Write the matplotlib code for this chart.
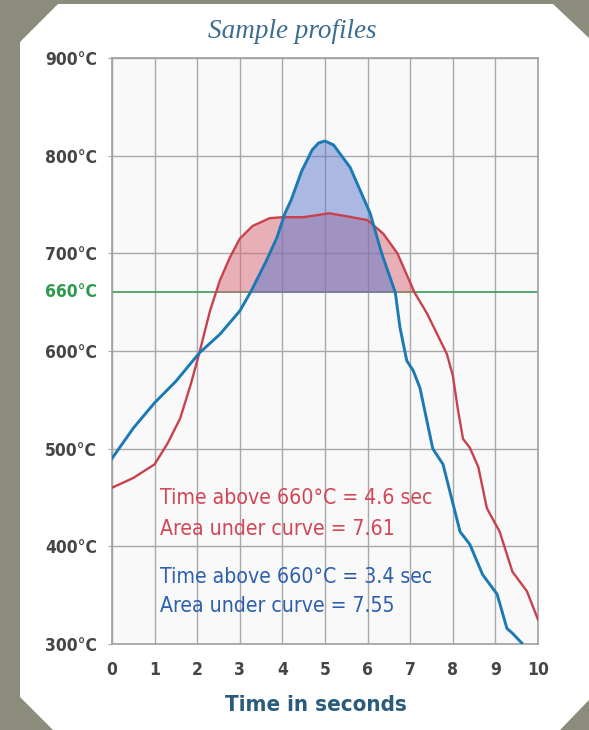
import matplotlib
matplotlib.use("Agg")
import matplotlib.pyplot as plt
from matplotlib.patches import Polygon
from matplotlib import font_manager
import numpy as np

# ---------------- data ----------------
red_t = [0, 0.5, 1.0, 1.3, 1.6, 1.85, 2.05, 2.3, 2.53, 2.77, 3.0, 3.3, 3.7,
         4.0, 4.5, 5.1, 5.5, 6.0, 6.37, 6.7, 7.1, 7.4, 7.86, 8.0, 8.12, 8.24,
         8.4, 8.6, 8.8, 9.1, 9.4, 9.74, 10]
red_temp = [460, 470, 484, 505, 531, 566, 598, 641, 672, 696, 715, 728, 736,
            737, 737, 741, 738, 734, 720, 700, 660, 638, 597, 575, 540, 510,
            501, 481, 439, 415, 374, 354, 325]

blue_t = [0, 0.5, 1.0, 1.5, 2.05, 2.53, 3.0, 3.25, 3.63, 3.87, 4.06, 4.2,
          4.45, 4.7, 4.85, 5.0, 5.2, 5.59, 5.9, 6.06, 6.33, 6.65, 6.76, 6.92,
          7.07, 7.23, 7.53, 7.77, 8.17, 8.4, 8.7, 9.04, 9.27, 9.4, 9.62]
blue_temp = [490, 521, 547, 569, 598, 617, 641, 660, 693, 716, 741, 754,
             784, 806, 813, 815, 811, 788, 757, 741, 700, 660, 624, 590,
             580, 562, 500, 484, 415, 402, 371, 351, 316, 311, 301]

threshold = 660
y_ticks = [300, 400, 500, 600, 700, 800, 900]
x_ticks = list(range(0, 11))
title = "Sample profiles"
xlabel = "Time in seconds"
red_lines = ["Time above 660°C = 4.6 sec", "Area under curve = 7.61"]
blue_lines = ["Time above 660°C = 3.4 sec", "Area under curve = 7.55"]

# ---------------- styles ----------------
W, H = 589, 730
RED = "#c9414c"
BLUE = "#1a7ab6"
GREEN = "#3a9a55"
TXT = "#454545"

names = {f.name for f in font_manager.fontManager.ttflist}
if "Liberation Sans Narrow" in names:
    NFAM, NSTRETCH = "Liberation Sans Narrow", "normal"
else:
    NFAM, NSTRETCH = "DejaVu Sans", "condensed"
NKW = dict(family=NFAM, fontstretch=NSTRETCH)

fig = plt.figure(figsize=(W / 100, H / 100), dpi=100)
fig.patch.set_facecolor("#8c8c7c")

pts = [(20, 42), (58, 4), (553, 4), (589, 38), (589, 700), (560, 730),
       (53, 730), (20, 697)]
panel = Polygon([(x / W, 1 - y / H) for x, y in pts], closed=True,
                transform=fig.transFigure, facecolor="white", edgecolor="none",
                zorder=-5)
fig.patches.append(panel)

ax = fig.add_axes([112 / W, 1 - 644 / H, (538 - 112) / W, (644 - 58) / H])
ax.set_zorder(2)
ax.set_facecolor("#f9f9f9")
ax.set_xlim(0, 10)
ax.set_ylim(300, 900)

ax.set_xticks(x_ticks)
ax.set_yticks(y_ticks)
ax.set_xticklabels([str(v) for v in x_ticks])
ax.set_yticklabels([f"{v}°C" for v in y_ticks])
ax.grid(True, color="#a8a8a8", lw=1.0, zorder=1)
ax.tick_params(axis="both", length=3, color="#a8a8a8", labelcolor=TXT)
ax.tick_params(axis="x", length=0, pad=12)
ax.tick_params(axis="y", pad=8)
for lab in ax.get_xticklabels() + ax.get_yticklabels():
    lab.set_fontfamily(NFAM)
    lab.set_fontstretch(NSTRETCH)
    lab.set_fontweight("bold")
    lab.set_fontsize(12.5)
for s in ax.spines.values():
    s.set_color("#a0a0a0")
    s.set_linewidth(1.2)

# threshold line and label
ax.axhline(threshold, color=GREEN, lw=1.2, zorder=2)
ax.annotate(f"{threshold}°C", xy=(0, threshold), xycoords=ax.get_yaxis_transform(),
            xytext=(-11, 0), textcoords="offset points",
            ha="right", va="center", color="#2f9a4c", fontsize=12.5,
            fontweight="bold", **NKW)

# fills
rt = np.array(red_t, float); ry = np.array(red_temp, float)
bt = np.array(blue_t, float); by = np.array(blue_temp, float)
ax.fill_between(rt, ry, threshold, where=ry >= threshold, interpolate=True,
                color="#d86874", alpha=0.5, lw=0, zorder=2)
ax.fill_between(bt, by, threshold, where=by >= threshold, interpolate=True,
                color="#5c78cc", alpha=0.5, lw=0, zorder=2)

ax.plot(rt, ry, color=RED, lw=1.7, zorder=4, solid_joinstyle="round")
ax.plot(bt, by, color=BLUE, lw=2.1, zorder=5, solid_joinstyle="round")

# annotations
for yv, s in zip([449, 418], red_lines):
    ax.text(1.13, yv, s, color="#d24655", fontsize=15.2, va="center",
            ha="left", zorder=6, **NKW)
for yv, s in zip([369, 339], blue_lines):
    ax.text(1.13, yv, s, color="#2d5fae", fontsize=15.2, va="center",
            ha="left", zorder=6, **NKW)

fig.text(292 / W, 1 - 32 / H, title, ha="center", va="center",
         color="#3d6d8e", fontsize=19.5, fontstyle="italic",
         family=["Liberation Serif", "DejaVu Serif"])
fig.text(316 / W, 1 - 705 / H, xlabel, ha="center", va="center",
         color="#2b5b7c", fontsize=16, fontweight="bold", **NKW)

fig.savefig("out.png", dpi=100, facecolor=fig.get_facecolor())
